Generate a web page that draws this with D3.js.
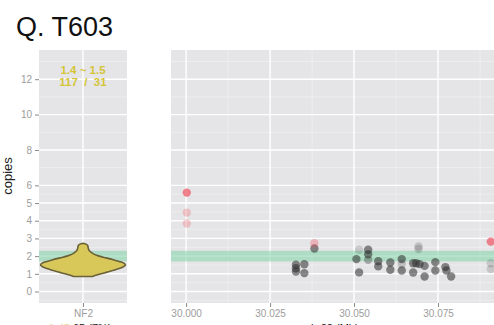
<!DOCTYPE html>
<html>
<head>
<meta charset="utf-8">
<script src="https://cdn.jsdelivr.net/npm/d3@7"></script>
<style>
  html, body { margin: 0; padding: 0; background: #fff; overflow: hidden; }
  svg { display: block; font-family: "Liberation Sans", Arial, sans-serif; }
</style>
</head>
<body>
<svg id="chart" width="494" height="325"></svg>
<script>
// ---- data -------------------------------------------------------------
const title = "Q. T603";
const geneNames = ["NF2"];
const yTickValues = [0, 1, 2, 3, 4, 5, 6, 8, 10, 12];
const yMinorValues = [-0.5, 0.5, 1.5, 2.5, 3.5, 4.5, 5.5, 7, 9, 11, 13];
const xTickValues = [30.000, 30.025, 30.050, 30.075];
const xMinorValues = [30.0125, 30.0375, 30.0625, 30.0875];

// normal copy-number band
const normalLow = 1.7;
const normalHigh = 2.3;

// gene-level summary
const summaryRange = "1.4 ~ 1.5";
const summaryCounts = "117  /  31";

// violin profile for NF2: copy-number levels and relative density
const violinLevels  = [0.85, 0.9, 1.0, 1.1, 1.2, 1.3, 1.4, 1.5, 1.6, 1.7, 1.8, 1.9, 2.0, 2.1, 2.2, 2.3, 2.4, 2.5, 2.6, 2.68, 2.73];
const violinDensity = [0.22, 0.28, 0.42, 0.58, 0.72, 0.85, 0.95, 1.0, 0.96, 0.85, 0.71, 0.54, 0.38, 0.27, 0.2, 0.15, 0.13, 0.12, 0.11, 0.07, 0.0];

// probe positions (Mb on chr22), copy numbers, quality weights, call class
const probePos = [
  30.0327, 30.0327, 30.0327, 30.0352, 30.0352, 30.0382, 30.0515, 30.0507, 30.0515,
  30.0542, 30.0542, 30.0542, 30.0572, 30.0572, 30.0608, 30.0608, 30.0642, 30.0642,
  30.0642, 30.0676, 30.0676, 30.0685, 30.0695, 30.0710, 30.0692, 30.0692, 30.0710,
  30.0742, 30.0742, 30.0772, 30.0775, 30.0789, 30.0907, 30.0907,
  30.0002, 30.0002, 30.0002, 30.0382, 30.0907
];
const probeCopies = [
  1.51, 1.31, 1.13, 1.54, 1.04, 2.43, 2.36, 1.83, 1.08,
  2.36, 2.10, 1.79, 1.71, 1.42, 1.64, 1.23, 1.83, 1.55,
  1.19, 1.60, 1.07, 1.60, 1.55, 1.45, 2.54, 2.40, 0.85,
  1.66, 1.19, 1.38, 1.19, 0.85, 1.60, 1.27,
  5.59, 4.46, 3.84, 2.73, 2.82
];
const probeWeight = [
  1, 1, 1, 1, 1, 1, 0.3, 1, 1,
  1, 1, 0.6, 1, 1, 1, 1, 1, 0.4,
  1, 1, 1, 1, 1, 1, 0.35, 0.35, 1,
  1, 1, 1, 1, 1, 0.3, 0.3,
  1, 0.4, 0.4, 0.5, 1
];
const probeClass = [
  "in", "in", "in", "in", "in", "in", "in", "in", "in",
  "in", "in", "in", "in", "in", "in", "in", "in", "in",
  "in", "in", "in", "in", "in", "in", "in", "in", "in",
  "in", "in", "in", "in", "in", "in", "in",
  "out", "out", "out", "out", "out"
];

// ---- layout -------------------------------------------------------------
const svg = d3.select("#chart");
const panelTop = 50, panelBottom = 303;
const leftPanel = [39, 127];
const rightPanel = [171, 522];

const y = d3.scaleLinear().domain([-0.65, 13.65]).range([panelBottom, panelTop]);
const xGene = d3.scalePoint().domain(geneNames).range(leftPanel).padding(0.5);
const xPos = d3.scaleLinear().domain([29.9955, 30.1]).range(rightPanel);
const halfWidth = d3.scaleLinear().domain([0, 1]).range([0, 42.5]);
const probeOpacity = d3.scaleLinear().domain([0, 1]).range([0, 0.55]);
const probeFill = d3.scaleOrdinal().domain(["in", "out"]).range(["#2b2b2b", "#ee4f5c"]);

const panelBg = "#e5e5e7";
const tickGrey = "#9c9c9c";

// clip for right panel
svg.append("defs").append("clipPath").attr("id", "clipRight")
  .append("rect")
  .attr("x", rightPanel[0]).attr("y", panelTop)
  .attr("width", rightPanel[1] - rightPanel[0]).attr("height", panelBottom - panelTop);

// ---- title -------------------------------------------------------------
svg.append("text")
  .attr("x", 16).attr("y", 36)
  .attr("font-size", 27).attr("fill", "#111")
  .text(title);

// ---- panels ------------------------------------------------------------
function drawPanel(x0, x1, xMajors, xMinors) {
  const g = svg.append("g");
  g.append("rect")
    .attr("x", x0).attr("y", panelTop)
    .attr("width", x1 - x0).attr("height", panelBottom - panelTop)
    .attr("fill", panelBg);
  g.selectAll(".ymin").data(yMinorValues).join("line")
    .attr("x1", x0).attr("x2", x1)
    .attr("y1", d => y(d)).attr("y2", d => y(d))
    .attr("stroke", "#f3f3f4").attr("stroke-width", 0.6);
  g.selectAll(".xmin").data(xMinors).join("line")
    .attr("x1", d => d.px).attr("x2", d => d.px)
    .attr("y1", panelTop).attr("y2", panelBottom)
    .attr("stroke", "#f3f3f4").attr("stroke-width", 0.6);
  g.selectAll(".ymaj").data(yTickValues).join("line")
    .attr("x1", x0).attr("x2", x1)
    .attr("y1", d => y(d)).attr("y2", d => y(d))
    .attr("stroke", "#fff").attr("stroke-width", 1.4);
  g.selectAll(".xmaj").data(xMajors).join("line")
    .attr("x1", d => d.px).attr("x2", d => d.px)
    .attr("y1", panelTop).attr("y2", panelBottom)
    .attr("stroke", "#fff").attr("stroke-width", 1.4);
  // normal band
  g.append("rect")
    .attr("x", x0).attr("width", x1 - x0)
    .attr("y", y(normalHigh)).attr("height", y(normalLow) - y(normalHigh))
    .attr("fill", "#7fd3a6").attr("opacity", 0.55);
  return g;
}

drawPanel(leftPanel[0], leftPanel[1],
  geneNames.map(d => ({ px: xGene(d) })), []);

const rightG = drawPanel(rightPanel[0], rightPanel[1],
  xTickValues.map(d => ({ px: xPos(d) })),
  xMinorValues.map(d => ({ px: xPos(d) })));

// ---- violin ------------------------------------------------------------
const violinData = violinLevels.map((v, i) => ({ v, d: violinDensity[i] }));
const cx = xGene("NF2");
const violinArea = d3.area()
  .y(d => y(d.v))
  .x0(d => cx - halfWidth(d.d))
  .x1(d => cx + halfWidth(d.d))
  .curve(d3.curveCatmullRom.alpha(0.5));
svg.append("path")
  .datum(violinData)
  .attr("d", violinArea)
  .attr("fill", "#d8c85a")
  .attr("stroke", "#6b6138")
  .attr("stroke-width", 1.6)
  .attr("stroke-linejoin", "round");

// summary labels
svg.append("text")
  .attr("x", cx).attr("y", 74)
  .attr("text-anchor", "middle").attr("font-size", 11.5).attr("font-weight", "bold")
  .attr("fill", "#d6c436")
  .text(summaryRange);
svg.append("text")
  .attr("x", cx).attr("y", 86)
  .attr("text-anchor", "middle").attr("font-size", 11.5).attr("font-weight", "bold")
  .attr("fill", "#d6c436")
  .attr("xml:space", "preserve")
  .text(summaryCounts);

// ---- probes ------------------------------------------------------------
const probes = probePos.map((p, i) => ({
  p, c: probeCopies[i], w: probeWeight[i], k: probeClass[i]
}));
rightG.append("g").attr("clip-path", "url(#clipRight)")
  .selectAll("circle").data(probes).join("circle")
  .attr("cx", d => xPos(d.p))
  .attr("cy", d => y(d.c))
  .attr("r", 4.2)
  .attr("fill", d => probeFill(d.k))
  .attr("fill-opacity", d => d.k === "out" ? probeOpacity(d.w) * 1.25 : probeOpacity(d.w));

// ---- axes --------------------------------------------------------------
const yAxis = d3.axisLeft(y).tickValues(yTickValues).tickSize(4).tickPadding(3);
const yAxisG = svg.append("g").attr("transform", `translate(${leftPanel[0]},0)`).call(yAxis);
yAxisG.select(".domain").remove();
yAxisG.selectAll("line").attr("stroke", "#8a8a8a");
yAxisG.selectAll("text").attr("fill", tickGrey).attr("font-size", 10)
  .attr("font-family", "Liberation Sans, Arial, sans-serif");

const xGeneAxis = d3.axisBottom(xGene).tickSize(4).tickPadding(3);
const xgG = svg.append("g").attr("transform", `translate(0,${panelBottom})`).call(xGeneAxis);
xgG.select(".domain").remove();

const xPosAxis = d3.axisBottom(xPos).tickValues(xTickValues).tickFormat(d3.format(".3f")).tickSize(4).tickPadding(3);
const xpG = svg.append("g").attr("transform", `translate(0,${panelBottom})`).call(xPosAxis);
xpG.select(".domain").remove();

[xgG, xpG].forEach(g => {
  g.selectAll("line").attr("stroke", "#8a8a8a");
  g.selectAll("text").attr("fill", tickGrey).attr("font-size", 10)
    .attr("font-family", "Liberation Sans, Arial, sans-serif");
});

// axis titles
svg.append("text")
  .attr("transform", "translate(12,176) rotate(-90)")
  .attr("text-anchor", "middle").attr("font-size", 13).attr("fill", "#222")
  .text("copies");

const subTitle = svg.append("text")
  .attr("x", 80).attr("y", 332)
  .attr("text-anchor", "middle").attr("font-size", 11);
subTitle.append("tspan").attr("fill", "#e6dc9a").text("1.45 ");
subTitle.append("tspan").attr("fill", "#222").text("65 (7%)");

svg.append("text")
  .attr("x", 332).attr("y", 332)
  .attr("text-anchor", "middle").attr("font-size", 11).attr("fill", "#222")
  .text("chr22 (Mb)");
</script>
</body>
</html>
